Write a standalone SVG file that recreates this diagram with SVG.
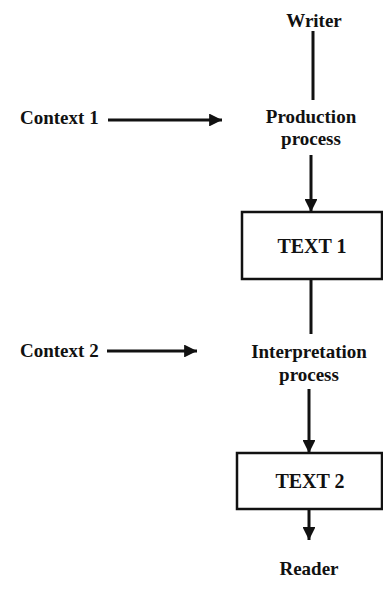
<svg xmlns="http://www.w3.org/2000/svg" width="383" height="591" viewBox="0 0 383 591">
<defs>
<style>
.lbl{font-family:"Liberation Serif","Times New Roman",serif;font-weight:bold;font-size:19px;fill:#111}
.box{font-family:"Liberation Serif","Times New Roman",serif;font-weight:bold;font-size:20px;fill:#111}
.ln{stroke:#111;stroke-width:3;fill:none}
.rect{stroke:#111;stroke-width:2.5;fill:#fff}
</style>
<marker id="ah" viewBox="0 0 10 10" refX="10" refY="5" markerWidth="4.3" markerHeight="4.3" markerUnits="strokeWidth" orient="auto">
<path d="M0,0 L10,5 L0,10 z" fill="#111"/>
</marker>
</defs>
<rect width="383" height="591" fill="#fff"/>
<g id="connectors">
<line class="ln" x1="313" y1="31" x2="313" y2="100"/>
<line class="ln" x1="108" y1="120" x2="222" y2="120" marker-end="url(#ah)"/>
<line class="ln" x1="311" y1="155" x2="311" y2="212" marker-end="url(#ah)"/>
<line class="ln" x1="311" y1="279" x2="311" y2="334"/>
<line class="ln" x1="107" y1="351" x2="197" y2="351" marker-end="url(#ah)"/>
<line class="ln" x1="309" y1="389" x2="309" y2="453" marker-end="url(#ah)"/>
<line class="ln" x1="309" y1="509" x2="309" y2="540" marker-end="url(#ah)"/>
</g>
<g id="writer"><text class="lbl" x="314" y="27" text-anchor="middle">Writer</text></g>
<g id="context1"><text class="lbl" x="20" y="124">Context 1</text></g>
<g id="production"><text class="lbl" x="311" y="123" text-anchor="middle">Production</text><text class="lbl" x="311" y="145" text-anchor="middle">process</text></g>
<g id="text1"><rect class="rect" x="242" y="212" width="140" height="67"/><text class="box" x="312" y="253" text-anchor="middle">TEXT 1</text></g>
<g id="context2"><text class="lbl" x="20" y="357">Context 2</text></g>
<g id="interpretation"><text class="lbl" x="309" y="358" text-anchor="middle">Interpretation</text><text class="lbl" x="309" y="381" text-anchor="middle">process</text></g>
<g id="text2"><rect class="rect" x="237" y="453" width="145" height="56"/><text class="box" x="310" y="488" text-anchor="middle">TEXT 2</text></g>
<g id="reader"><text class="lbl" x="309" y="575" text-anchor="middle">Reader</text></g>
</svg>
